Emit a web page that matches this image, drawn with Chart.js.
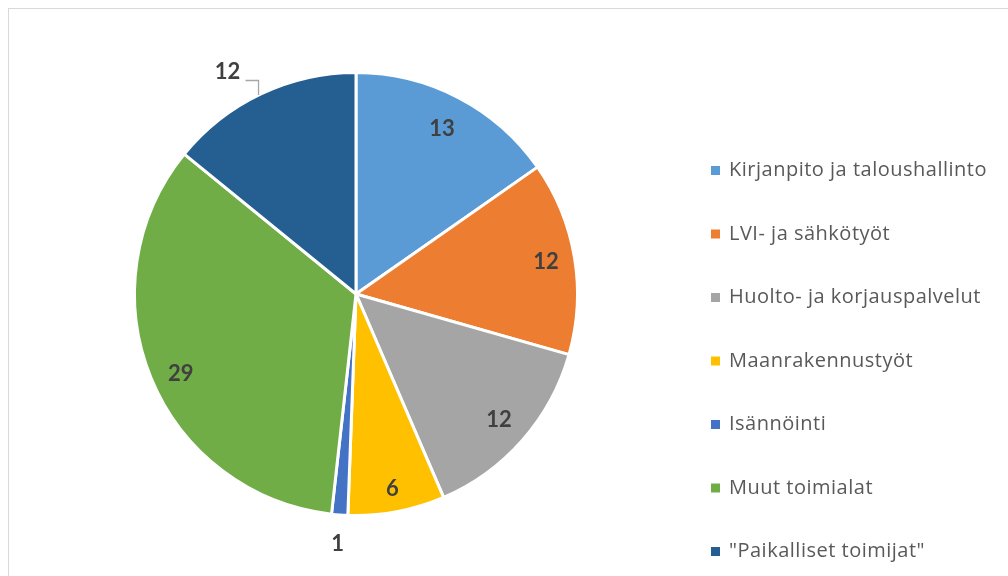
<!DOCTYPE html>
<html><head><meta charset="utf-8">
<script src="https://cdn.jsdelivr.net/npm/chart.js@4/dist/chart.umd.min.js"></script>
<style>html,body{margin:0;padding:0;background:#fff;overflow:hidden}#wrap{width:1008px;height:576px;position:relative}canvas{display:block}</style>
</head><body><div id="wrap"><canvas id="c" width="1008" height="576"></canvas></div>
<script>
const categories = ["Kirjanpito ja taloushallinto", "LVI- ja sähkötyöt", "Huolto- ja korjauspalvelut", "Maanrakennustyöt", "Isännöinti", "Muut toimialat", "\"Paikalliset toimijat\""];
const values = [13, 12, 12, 6, 1, 29, 12];
const colors = ["#5B9BD5", "#ED7D31", "#A5A5A5", "#FFC000", "#4472C4", "#70AD47", "#255E91"];

// label placement style: radius factor per slice, optional angle override (deg from top, clockwise)
const labelRadius = [0.84, 0.87, 0.86, 0.895, 1.13, 0.87, 1.16];
const labelAngle = [null, null, null, null, null, 245.5, 330];

const framePlugin = {
  id: 'frame',
  beforeDraw(chart) {
    const ctx = chart.ctx;
    ctx.save();
    ctx.fillStyle = '#fff';
    ctx.fillRect(0, 0, chart.width, chart.height);
    ctx.strokeStyle = '#D9D9D9';
    ctx.lineWidth = 1;
    ctx.strokeRect(8.5, 8.5, chart.width + 20, chart.height + 20);
    ctx.restore();
  }
};

const labelPlugin = {
  id: 'sliceLabels',
  afterDatasetsDraw(chart) {
    const ctx = chart.ctx;
    const meta = chart.getDatasetMeta(0);
    ctx.save();
    ctx.font = 'bold 22px Lato';
    ctx.fillStyle = '#404040';
    ctx.textAlign = 'center';
    ctx.textBaseline = 'middle';
    meta.data.forEach((arc, i) => {
      const p = arc.getProps(['x', 'y', 'startAngle', 'endAngle', 'outerRadius'], true);
      let a = (p.startAngle + p.endAngle) / 2;
      if (labelAngle[i] !== null) a = (labelAngle[i] - 90) * Math.PI / 180;
      const r = p.outerRadius * labelRadius[i];
      const lx = p.x + Math.cos(a) * r;
      const ly = p.y + Math.sin(a) * r;
      ctx.fillText(String(values[i]), lx, ly);
      if (i === 6) {
        // leader line
        const x1 = lx + 18, y1 = ly + 9;
        const x2 = lx + 31;
        const dx = x2 - p.x;
        const y2 = p.y - Math.sqrt(Math.max(p.outerRadius * p.outerRadius - dx * dx, 0));
        ctx.strokeStyle = '#A6A6A6';
        ctx.lineWidth = 1.3;
        ctx.beginPath();
        ctx.moveTo(x1, y1);
        ctx.lineTo(x2, y1);
        ctx.lineTo(x2, y2);
        ctx.stroke();
      }
    });
    ctx.restore();
  }
};

const legendPlugin = {
  id: 'sideLegend',
  afterDraw(chart) {
    const ctx = chart.ctx;
    ctx.save();
    ctx.font = '20px "Open Sans"';
    if ('letterSpacing' in ctx) ctx.letterSpacing = '0.5px';
    ctx.textBaseline = 'middle';
    ctx.textAlign = 'left';
    categories.forEach((c, i) => {
      const y = 170.5 + 63.5 * i;
      ctx.fillStyle = colors[i];
      ctx.fillRect(711, y - 4.5, 9, 9);
      ctx.fillStyle = '#595959';
      ctx.fillText(c, 729, y);
    });
    ctx.restore();
  }
};

new Chart(document.getElementById('c'), {
  type: 'pie',
  data: {
    labels: categories,
    datasets: [{
      data: values,
      backgroundColor: colors,
      borderColor: '#ffffff',
      borderWidth: 3,
      hoverOffset: 0
    }]
  },
  options: {
    responsive: false,
    animation: false,
    devicePixelRatio: 1,
    layout: { padding: { left: 133, right: 1008 - 579, top: 71, bottom: 576 - 517 } },
    plugins: { legend: { display: false }, tooltip: { enabled: false } }
  },
  plugins: [framePlugin, labelPlugin, legendPlugin]
});
</script>
</body></html>
